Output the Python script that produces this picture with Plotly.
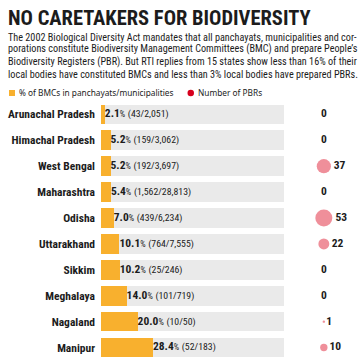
import plotly.graph_objects as go

states = ["Arunachal Pradesh", "Himachal Pradesh", "West Bengal", "Maharashtra", "Odisha",
          "Uttarakhand", "Sikkim", "Meghalaya", "Nagaland", "Manipur"]
bmc_pct = [2.1, 5.2, 5.2, 5.4, 7.0, 10.1, 10.2, 14.0, 20.0, 28.4]
bmc_count = [43, 159, 192, 1562, 439, 764, 25, 101, 10, 52]
local_bodies = [2051, 3062, 3697, 28813, 6234, 7555, 246, 719, 50, 183]
pbr_count = [0, 0, 37, 0, 53, 22, 0, 0, 1, 10]
full_scale = 100

title = "NO CARETAKERS FOR BIODIVERSITY"
subtitle_lines = [
    "The 2002 Biological Diversity Act mandates that all panchayats, municipalities and cor-",
    "porations constitute Biodiversity Management Committees (BMC) and prepare People\u2019s",
    "Biodiversity Registers (PBR). But RTI replies from 15 states show less than 16% of their",
    "local bodies have constituted BMCs and less than 3% local bodies have prepared PBRs.",
]
legend_bar = "% of BMCs in panchayats/municipalities"
legend_dot = "Number of PBRs"

NARROW = "Roboto Condensed, DejaVu Sans Condensed, sans-serif"
LEG = "Noto Sans, sans-serif"
W = H = 362
ORANGE = "#F8B02E"
GREY = "#EAEAEA"
PINK = "#E8606F"
RED = "#D7001E"
INK = "#1c1c1c"

def px(x):
    return x / W

def py(y):
    return (H - y) / H

labels = [
    f"<b>{p:.1f}</b><span style='font-size:8.5px'>%</span> "
    f"<span style='font-size:9.8px'>({c:,}/{b:,})</span>"
    for p, c, b in zip(bmc_pct, bmc_count, local_bodies)
]
remainder = [full_scale - p for p in bmc_pct]

fig = go.Figure()
fig.add_trace(go.Bar(
    y=states, x=bmc_pct, orientation="h",
    marker=dict(color=ORANGE, line=dict(width=0)), width=0.76,
    hoverinfo="skip", showlegend=False, xaxis="x", yaxis="y",
))
fig.add_trace(go.Bar(
    y=states, x=remainder, orientation="h",
    marker=dict(color=GREY, line=dict(width=0)), width=0.76,
    hoverinfo="skip", showlegend=False, xaxis="x", yaxis="y",
))
fig.add_trace(go.Scatter(
    y=states, x=bmc_pct, mode="text", text=labels, textposition="middle right",
    textfont=dict(family=NARROW, size=11.5, color=INK), cliponaxis=False,
    showlegend=False, xaxis="x", yaxis="y",
))

nz = [i for i, v in enumerate(pbr_count) if v > 0]
zz = [i for i, v in enumerate(pbr_count) if v == 0]
D = 17.0
fig.add_trace(go.Scatter(
    x=[0.47] * len(nz), y=[states[i] for i in nz],
    mode="markers+text", text=[f"<b>{pbr_count[i]}</b>" for i in nz],
    textposition="middle right",
    textfont=dict(family=NARROW, size=11.5, color=INK),
    marker=dict(size=[pbr_count[i] for i in nz], sizemode="area",
                sizeref=2 * max(pbr_count) / D ** 2, sizemin=1.2,
                color=PINK, line=dict(width=0)),
    showlegend=False, xaxis="x2", yaxis="y", cliponaxis=False,
))
fig.add_trace(go.Scatter(
    x=[0.47] * len(zz), y=[states[i] for i in zz],
    mode="text", text=[f"<b>{pbr_count[i]}</b>" for i in zz],
    textposition="middle center",
    textfont=dict(family=NARROW, size=11.5, color=INK),
    showlegend=False, xaxis="x2", yaxis="y", cliponaxis=False,
))

annotations = [dict(
    text=f"<b>{title}</b>", x=px(6), y=py(18.5), xref="paper", yref="paper",
    xanchor="left", yanchor="middle", showarrow=False,
    font=dict(family=NARROW, size=20.5, color=INK),
)]
for k, line in enumerate(subtitle_lines):
    annotations.append(dict(
        text=line, x=px(6), y=py(37 + 12.4 * k), xref="paper", yref="paper",
        xanchor="left", yanchor="middle", showarrow=False,
        font=dict(family=NARROW, size=10.2, color=INK),
    ))
annotations.append(dict(
    text=legend_bar, x=px(17), y=py(93), xref="paper", yref="paper",
    xanchor="left", yanchor="middle", showarrow=False,
    font=dict(family=LEG, size=8.3, color=INK),
))
annotations.append(dict(
    text=legend_dot, x=px(196), y=py(93), xref="paper", yref="paper",
    xanchor="left", yanchor="middle", showarrow=False,
    font=dict(family=LEG, size=8.3, color=INK),
))

shapes = [
    dict(type="rect", xref="paper", yref="paper", x0=px(9), x1=px(15), y0=py(96), y1=py(90),
         fillcolor=ORANGE, line=dict(width=0)),
    dict(type="circle", xref="paper", yref="paper", x0=px(187.5), x1=px(194), y0=py(96.2), y1=py(89.8),
         fillcolor=RED, line=dict(width=0)),
]

fig.update_layout(
    template="none",
    width=W, height=H, margin=dict(l=0, r=0, t=0, b=0, pad=0, autoexpand=False),
    paper_bgcolor="white", plot_bgcolor="white",
    barmode="stack",
    annotations=annotations, shapes=shapes,
    xaxis=dict(domain=[px(101), px(284)], range=[0, full_scale], visible=False,
               fixedrange=True, automargin=False),
    xaxis2=dict(domain=[px(290), 1], range=[0, 1], visible=False, fixedrange=True, automargin=False),
    yaxis=dict(domain=[py(360.5), py(101.4)], range=[len(states) - 0.5, -0.5], showgrid=False,
               zeroline=False, showline=False, ticks="", ticklabelstandoff=5, automargin=False,
               tickfont=dict(family=NARROW, size=11.5, color=INK),
               tickvals=states, ticktext=[f"<b>{s}</b>" for s in states], fixedrange=True),
    font=dict(family=NARROW),
    showlegend=False,
)

fig.write_html("out.html", config={"staticPlot": True, "displayModeBar": False},
               post_script="document.body.style.margin='0';document.body.style.padding='0';")
